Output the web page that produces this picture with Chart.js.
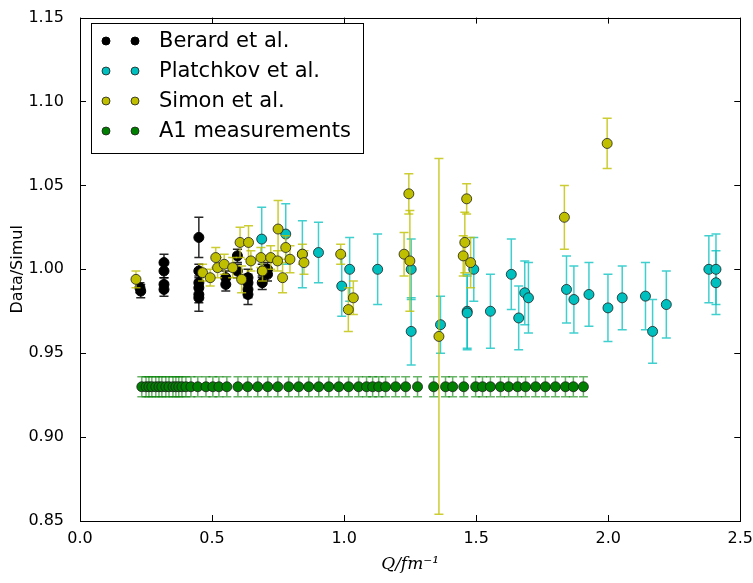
<!DOCTYPE html>
<html>
<head>
<meta charset="utf-8">
<script src="https://cdn.jsdelivr.net/npm/chart.js@4.4.1/dist/chart.umd.min.js"></script>
<style>
  body { margin: 0; background: #fff; }
</style>
</head>
<body>
<canvas id="myChart" width="753" height="583"></canvas>
<script>
// Berard et al.
var berardQ   = [0.227, 0.230, 0.318, 0.318, 0.318, 0.318, 0.450, 0.450, 0.450, 0.450, 0.450, 0.450, 0.552, 0.552, 0.596, 0.596, 0.636, 0.636, 0.636, 0.636, 0.690, 0.690, 0.710, 0.710];
var berardVal = [0.989, 0.987, 1.004, 0.999, 0.991, 0.988, 1.019, 0.999, 0.992, 0.989, 0.985, 0.983, 0.991, 0.995, 1.008, 0.999, 0.992, 0.995, 0.988, 0.985, 0.999, 0.992, 0.997, 1.000];
var berardErr = [0.003, 0.004, 0.005, 0.004, 0.004, 0.004, 0.012, 0.004, 0.004, 0.004, 0.005, 0.008, 0.004, 0.004, 0.004, 0.004, 0.005, 0.005, 0.005, 0.006, 0.004, 0.004, 0.004, 0.004];

// Platchkov et al.
var platQ   = [0.688, 0.779, 0.842, 0.903, 0.991, 1.021, 1.127, 1.254, 1.254, 1.365, 1.466, 1.466, 1.491, 1.554, 1.633, 1.661, 1.684, 1.698, 1.842, 1.870, 1.927, 1.999, 2.053, 2.141, 2.168, 2.220, 2.381, 2.408, 2.408];
var platVal = [1.018, 1.021, 1.009, 1.010, 0.990, 1.000, 1.000, 1.000, 0.963, 0.967, 0.975, 0.974, 1.000, 0.975, 0.997, 0.971, 0.986, 0.983, 0.988, 0.982, 0.985, 0.977, 0.983, 0.984, 0.963, 0.979, 1.000, 1.000, 0.992];
var platErr = [0.019, 0.018, 0.020, 0.018, 0.018, 0.019, 0.021, 0.018, 0.020, 0.017, 0.022, 0.022, 0.019, 0.022, 0.021, 0.019, 0.019, 0.021, 0.020, 0.020, 0.019, 0.020, 0.019, 0.020, 0.019, 0.020, 0.020, 0.021, 0.019];

// Simon et al.
var simonQ   = [0.212, 0.464, 0.493, 0.514, 0.521, 0.546, 0.578, 0.612, 0.606, 0.638, 0.647, 0.685, 0.691, 0.722, 0.748, 0.750, 0.767, 0.779, 0.795, 0.842, 0.848, 0.987, 1.035, 1.016, 1.227, 1.245, 1.249, 1.359, 1.464, 1.457, 1.451, 1.479, 1.834, 1.996];
var simonVal = [0.994, 0.998, 0.995, 1.007, 1.001, 1.003, 1.001, 0.994, 1.016, 1.016, 1.005, 1.007, 0.999, 1.007, 1.005, 1.024, 0.995, 1.013, 1.006, 1.009, 1.004, 1.009, 0.983, 0.976, 1.009, 1.045, 1.005, 0.960, 1.042, 1.016, 1.008, 1.004, 1.031, 1.075];
var simonErr = [0.005, 0.005, 0.005, 0.006, 0.006, 0.006, 0.006, 0.008, 0.009, 0.010, 0.006, 0.006, 0.006, 0.007, 0.006, 0.017, 0.009, 0.007, 0.008, 0.006, 0.007, 0.006, 0.010, 0.013, 0.013, 0.012, 0.030, 0.106, 0.009, 0.018, 0.012, 0.015, 0.019, 0.015];

// A1 measurements
var a1Q = [0.234, 0.250, 0.261, 0.272, 0.287, 0.299, 0.310, 0.325, 0.337, 0.352, 0.363, 0.374, 0.386, 0.401, 0.420, 0.446, 0.477, 0.503, 0.526, 0.556, 0.598, 0.635, 0.673, 0.711, 0.749, 0.790, 0.828, 0.866, 0.904, 0.942, 0.980, 1.017, 1.055, 1.085, 1.108, 1.131, 1.157,
           1.195, 1.233, 1.278, 1.339, 1.384, 1.411, 1.453, 1.498, 1.524, 1.554, 1.592, 1.623, 1.657, 1.687, 1.725, 1.762, 1.800, 1.838, 1.868, 1.906];
var a1Val = [0.93, 0.93, 0.93, 0.93, 0.93, 0.93, 0.93, 0.93, 0.93, 0.93, 0.93, 0.93, 0.93, 0.93, 0.93, 0.93, 0.93, 0.93, 0.93, 0.93, 0.93, 0.93, 0.93, 0.93, 0.93, 0.93, 0.93, 0.93, 0.93, 0.93, 0.93, 0.93, 0.93, 0.93, 0.93, 0.93, 0.93,
             0.93, 0.93, 0.93, 0.93, 0.93, 0.93, 0.93, 0.93, 0.93, 0.93, 0.93, 0.93, 0.93, 0.93, 0.93, 0.93, 0.93, 0.93, 0.93, 0.93];
var a1Err = [0.006, 0.006, 0.006, 0.006, 0.006, 0.006, 0.006, 0.006, 0.006, 0.006, 0.006, 0.006, 0.006, 0.006, 0.006, 0.006, 0.006, 0.006, 0.006, 0.006, 0.006, 0.006, 0.006, 0.006, 0.006, 0.006, 0.006, 0.006, 0.006, 0.006, 0.006, 0.006, 0.006, 0.006, 0.006, 0.006, 0.006,
             0.006, 0.006, 0.006, 0.006, 0.006, 0.006, 0.006, 0.006, 0.006, 0.006, 0.006, 0.006, 0.006, 0.006, 0.006, 0.006, 0.006, 0.006, 0.006, 0.006];

var xTicks = [0.0, 0.5, 1.0, 1.5, 2.0, 2.5];
var yTicks = [0.85, 0.90, 0.95, 1.00, 1.05, 1.10, 1.15];

function pts(q, v) {
  return q.map((x, i) => ({x: x, y: v[i]}));
}

// vertical error bars with caps, drawn just under each dataset's markers
const errorBars = {
  id: 'errorBars',
  beforeDatasetDraw(chart, args) {
    const ds = chart.data.datasets[args.index];
    if (!ds.errors) return;
    const ctx = chart.ctx, x = chart.scales.x, y = chart.scales.y;
    ctx.save();
    ctx.strokeStyle = ds.barColor;
    ctx.lineWidth = 1.5;
    ds.data.forEach((p, i) => {
      const px = x.getPixelForValue(p.x);
      const top = y.getPixelForValue(p.y + ds.errors[i]);
      const bot = y.getPixelForValue(p.y - ds.errors[i]);
      ctx.beginPath();
      ctx.moveTo(px, top); ctx.lineTo(px, bot);
      ctx.moveTo(px - 4.5, top); ctx.lineTo(px + 4.5, top);
      ctx.moveTo(px - 4.5, bot); ctx.lineTo(px + 4.5, bot);
      ctx.stroke();
    });
    ctx.restore();
  }
};

// box, inward ticks on all four sides, and the legend box
const frame = {
  id: 'frame',
  afterDraw(chart) {
    const ctx = chart.ctx, a = chart.chartArea;
    const x = chart.scales.x, y = chart.scales.y;
    ctx.save();
    ctx.strokeStyle = '#000';
    ctx.lineWidth = 1;
    ctx.beginPath();
    xTicks.forEach(v => {
      const px = Math.round(x.getPixelForValue(v)) + 0.5;
      ctx.moveTo(px, a.bottom); ctx.lineTo(px, a.bottom - 6);
      ctx.moveTo(px, a.top); ctx.lineTo(px, a.top + 6);
    });
    yTicks.forEach(v => {
      const py = Math.round(y.getPixelForValue(v)) + 0.5;
      ctx.moveTo(a.left, py); ctx.lineTo(a.left + 6, py);
      ctx.moveTo(a.right, py); ctx.lineTo(a.right - 6, py);
    });
    ctx.stroke();
    ctx.strokeRect(Math.round(a.left) + 0.5, Math.round(a.top) + 0.5,
                   Math.round(a.right - a.left), Math.round(a.bottom - a.top));

    // legend
    const lx = 91, ly = 23, lw = 272, lh = 130;
    ctx.fillStyle = '#fff';
    ctx.fillRect(lx, ly, lw, lh);
    ctx.strokeRect(lx + 0.5, ly + 0.5, lw, lh);
    ctx.font = '21px "DejaVu Sans"';
    ctx.textBaseline = 'middle';
    chart.data.datasets.forEach((ds, i) => {
      const ry = 41 + i * 30;
      [106, 135].forEach(mx => {
        ctx.beginPath();
        ctx.arc(mx, ry, 4, 0, Math.PI * 2);
        ctx.fillStyle = ds.pointBackgroundColor;
        ctx.fill();
        ctx.strokeStyle = ds.pointBorderColor;
        ctx.stroke();
      });
      ctx.fillStyle = '#000';
      ctx.fillText(ds.label, 159, ry + 1);
    });
    ctx.restore();
  }
};

const edge = 'rgba(30,30,30,0.8)';

new Chart('myChart', {
  type: 'scatter',
  data: {
    datasets: [{
      label: 'Berard et al.',
      data: pts(berardQ, berardVal),
      errors: berardErr,
      barColor: 'rgba(0,0,0,0.85)',
      pointBackgroundColor: '#000000',
      pointBorderColor: '#000000',
      order: 4
    }, {
      label: 'Platchkov et al.',
      data: pts(platQ, platVal),
      errors: platErr,
      barColor: 'rgba(0,191,191,0.75)',
      pointBackgroundColor: '#00bfbf',
      pointBorderColor: edge,
      order: 3
    }, {
      label: 'Simon et al.',
      data: pts(simonQ, simonVal),
      errors: simonErr,
      barColor: 'rgba(191,191,0,0.8)',
      pointBackgroundColor: '#bfbf00',
      pointBorderColor: edge,
      order: 2
    }, {
      label: 'A1 measurements',
      data: pts(a1Q, a1Val),
      errors: a1Err,
      barColor: 'rgba(0,128,0,0.6)',
      pointBackgroundColor: '#008000',
      pointBorderColor: edge,
      order: 1
    }]
  },
  options: {
    responsive: false,
    animation: false,
    events: [],
    layout: {padding: {top: 11, right: 12, left: 0, bottom: 0}},
    elements: {point: {radius: 5, borderWidth: 1}},
    plugins: {legend: {display: false}, tooltip: {enabled: false}},
    scales: {
      x: {
        type: 'linear',
        min: 0, max: 2.5,
        afterBuildTicks: s => { s.ticks = xTicks.map(v => ({value: v})); },
        afterFit: s => { s.height = 62; },
        grid: {display: false},
        border: {display: false},
        ticks: {
          color: '#000', padding: 0,
          font: {family: 'DejaVu Sans', size: 16},
          callback: v => v.toFixed(1)
        },
        title: {
          display: true, text: 'Q/fm\u207B\u00B9', color: '#000',
          font: {family: 'DejaVu Serif', size: 17, style: 'italic'},
          padding: {top: 0, bottom: 8}
        }
      },
      y: {
        type: 'linear',
        min: 0.85, max: 1.15,
        afterBuildTicks: s => { s.ticks = yTicks.map(v => ({value: v})); },
        afterFit: s => { s.width = 80; },
        grid: {display: false},
        border: {display: false},
        ticks: {
          color: '#000', padding: 8,
          font: {family: 'DejaVu Sans', size: 16},
          callback: v => v.toFixed(2)
        },
        title: {
          display: true, text: 'Data/Simul', color: '#000',
          font: {family: 'DejaVu Sans', size: 16},
          padding: {top: 8, bottom: 0}
        }
      }
    }
  },
  plugins: [errorBars, frame]
});
</script>
</body>
</html>
